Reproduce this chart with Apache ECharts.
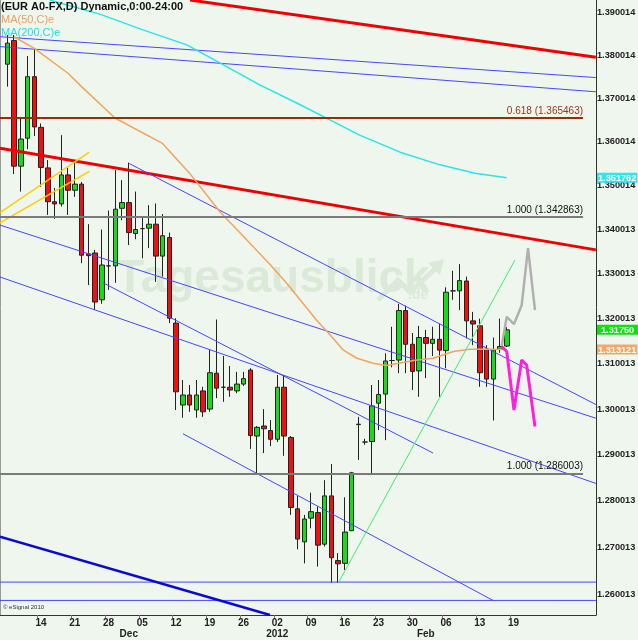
<!DOCTYPE html>
<html><head><meta charset="utf-8">
<script src="https://cdn.jsdelivr.net/npm/echarts@6/dist/echarts.min.js"></script>
<style>html,body{margin:0;padding:0;background:#eff6ee}#c{width:638px;height:640px}</style>
</head><body><div id="c"></div><script>
// ---- data ----
const opens = [1.3779,1.3834,1.3544,1.3608,1.3750,1.3633,1.3540,1.3463,1.3458,1.3524,
1.3489,1.3503,1.3345,1.3347,1.3242,1.3318,1.3318,1.3448,1.3461,1.3391,
1.3402,1.3403,1.3412,1.3340,1.3382,1.3190,1.3009,1.3031,1.2998,1.3040,
1.3000,1.3079,1.3048,1.3048,1.3040,1.3055,1.3086,1.2941,1.2963,1.2953,
1.2934,1.3048,1.2938,1.2783,1.2712,1.2763,1.2775,1.2707,1.2811,1.2672,
1.2666,1.2736,1.2966,1.2928,1.2929,1.3013,1.3033,1.3107,1.3108,1.3218,
1.3143,1.3084,1.3158,1.3145,1.3154,1.3129,1.3262,1.3262,1.3284,1.3195,
1.3184,1.3132,1.3066,1.3132,1.3139];
const closes = [1.3828,1.3544,1.3606,1.3750,1.3634,1.3541,1.3463,1.3458,1.3524,1.3489,
1.3503,1.3342,1.3341,1.3237,1.3320,1.3318,1.3446,1.3461,1.3393,1.3400,
1.3402,1.3412,1.3340,1.3386,1.3201,1.3038,1.3031,1.3009,1.3031,1.2994,
1.3080,1.3046,1.3048,1.3042,1.3055,1.3067,1.2942,1.2960,1.2957,1.2934,
1.3048,1.2941,1.2786,1.2718,1.2761,1.2777,1.2705,1.2811,1.2678,1.2665,
1.2733,1.2861,1.2967,1.2928,1.3007,1.3032,1.3106,1.3107,1.3218,1.3143,
1.3083,1.3158,1.3145,1.3154,1.3130,1.3259,1.3262,1.3285,1.3195,1.3188,
1.3080,1.3066,1.3130,1.3138,1.3175];
const lows = [1.3727,1.3526,1.3486,1.3583,1.3613,1.3497,1.3433,1.3424,1.3452,1.3433,
1.3474,1.3324,1.3275,1.3219,1.3233,1.3264,1.3280,1.3421,1.3365,1.3378,
1.3335,1.3358,1.3282,1.3294,1.3190,1.2998,1.2981,1.2994,1.2981,1.2983,
1.2994,1.3024,1.3016,1.3027,1.3035,1.3051,1.2913,1.2860,1.2904,1.2919,
1.2928,1.2898,1.2770,1.2696,1.2666,1.2741,1.2659,1.2702,1.2624,1.2624,
1.2652,1.2735,1.2889,1.2922,1.2856,1.2954,1.2932,1.3092,1.3079,1.3079,
1.3042,1.3027,1.3068,1.3117,1.3027,1.3090,1.3242,1.3219,1.3156,1.3141,
1.3049,1.3049,1.2975,1.3124,1.3137];
const highs = [1.3847,1.3847,1.3657,1.3798,1.3816,1.3642,1.3558,1.3494,1.3615,1.3540,
1.3558,1.3508,1.3412,1.3354,1.3400,1.3443,1.3535,1.3512,1.3552,1.3486,
1.3429,1.3455,1.3459,1.3435,1.3393,1.3201,1.3064,1.3053,1.3064,1.3049,
1.3132,1.3198,1.3117,1.3095,1.3082,1.3082,1.3090,1.2963,1.3000,1.2976,
1.3075,1.3073,1.2941,1.2811,1.2770,1.2818,1.2788,1.2845,1.2880,1.2688,
1.2808,1.2863,1.2983,1.2935,1.3053,1.3064,1.3123,1.3182,1.3233,1.3229,
1.3168,1.3184,1.3175,1.3182,1.3188,1.3270,1.3307,1.3322,1.3294,1.3215,
1.3200,1.3141,1.3158,1.3200,1.3181];

const ma50 = [[1,1.3843],[4,1.3816],[9,1.3758],[11,1.3727],[16,1.3654],[23,1.3596],[27,1.3528],
[31.5,1.3440],[35,1.3384],[39,1.3320],[41.4,1.3279],[45.8,1.3197],[47.8,1.3164],[49.8,1.3130],
[51.8,1.3112],[54.2,1.3101],[56.2,1.3096],[60.2,1.3107],[63.1,1.3112],[66.1,1.3127],[68.5,1.3132],
[71,1.3132],[74,1.313121]];
const ma200 = [[6.3,1.3929],[13.7,1.3896],[20.1,1.3859],[26.6,1.3824],[31.5,1.3782],[37.4,1.3731],
[43.4,1.3685],[47.8,1.3650],[52.2,1.3615],[58.2,1.3576],[64.1,1.3547],[69.3,1.3528],[74,1.351762]];

const redLineTop = [[27.07,1.3929],[87.2,1.3795]];
const redLineLow = [[-1.08,1.3585],[87.2,1.3354]];
const blueLines = [
  [[-1.08,1.3843],[87.2,1.3748]],
  [[-1.08,1.3820],[87.2,1.3715]],
  [[18.07,1.3550],[87.2,1.3010]],
  [[-1.08,1.3410],[87.2,1.2980]],
  [[-1.08,1.3293],[87.2,1.2838]],
  [[14.18,1.3280],[63.07,1.2904]],
  [[26.03,1.2946],[71.96,1.2587]],
  [[-1.08,1.2626],[87.2,1.2626]],
  [[-1.08,1.2587],[87.2,1.2587]]
];
const blueThick = [[-1.08,1.2723],[38.92,1.2556]];
const greenLine = [[49.04,1.2624],[75.21,1.3331]];
const yellowLines = [
  [[-1.08,1.3438],[12.15,1.3576]],
  [[-1.08,1.3415],[12.15,1.3532]]
];
const grayPath = [[73.24,1.3138],[74,1.3204],[75.07,1.3188],[76.21,1.3230],[77.15,1.3358],[78.18,1.3219]];
const magentaPath = [[73.24,1.3138],[74,1.3127],[75.07,1.2998],[76.21,1.3108],[76.95,1.3097],[78.18,1.2962]];
const fibLevels = [1.365463, 1.342863, 1.286003];
const fibNames = ['0.618', '1.000', '1.000'];

const dayIdx = [5,10,15,20,25,30,35,40,45,50,55,60,65,70,75];
const dayLabels = ['14','21','28','05','12','19','26','02','09','16','23','30','06','13','19'];
const monthIdx = [18,40,62];
const monthLabels = ['Dec','2012','Feb'];
const yTicks = [1.260013,1.270013,1.280013,1.290013,1.300013,1.310013,1.320013,1.330013,1.340013,1.350014,1.360014,1.370014,1.380014,1.390014];
const tagValues = [1.351762, 1.31750, 1.313121];
const tagLabels = ['1.351762','1.31750','1.313121'];

// ---- chart ----
const X0 = -1.08, X1 = 87.22, Y0 = 1.25561, Y1 = 1.39291;
function nearest(arr, v){let b=0;for(let i=1;i<arr.length;i++){if(Math.abs(arr[i]-v)<Math.abs(arr[b]-v))b=i;}return b;}
const candleData = opens.map((o,i)=>[i,o,closes[i],lows[i],highs[i]]);
const FONT = 'Liberation Sans, Arial, sans-serif';

function seg(data,color,width,z){return {type:'line',data:data,symbol:'none',silent:true,z:z||3,
  lineStyle:{color:color,width:width},xAxisIndex:0,yAxisIndex:0};}

const series = [];
series.push({type:'candlestick',data:candleData,encode:{x:0,y:[1,2,3,4]},barWidth:5,z:2,
  itemStyle:{color:'#16dc16',color0:'#ee1111',borderColor:'#222',borderColor0:'#222',borderWidth:1}});
series.push(seg(redLineTop,'#ee0000',3));
series.push(seg(redLineLow,'#ee0000',3));
blueLines.forEach(l=>series.push(seg(l,'#4646ff',1)));
series.push(seg(blueThick,'#0a0ad0',2.5));
series.push(seg(greenLine,'#40ee70',1));
yellowLines.forEach(l=>series.push(seg(l,'#ffcc00',1.5)));
series.push(seg(ma50,'#f3a35a',1.5));
series.push(seg(ma200,'#28e4ec',1.5));
series.push(seg(grayPath,'#b0b0b0',2.5));
series.push(seg(magentaPath,'#ff20dd',3));
fibLevels.forEach((v,i)=>{
  series.push({type:'line',data:[],silent:true,z:3,
    markLine:{symbol:'none',silent:true,animation:false,
      lineStyle:{type:'solid',color:i===0?'#9a2a10':'#7a7a7a',width:2},
      label:{position:'insideEndTop',distance:[0,2],formatter:fibNames[i]+' ('+v.toFixed(6)+')',
        color:i===0?'#a0341a':'#111',fontSize:10,fontFamily:FONT},
      data:[[{coord:[X0,v]},{coord:[85.3,v]}]]}});
});

const option = {
  backgroundColor:'#eff6ee',
  animation:false,
  grid:{left:0,right:42,top:0,bottom:25,outerBoundsMode:'none',containLabel:false},
  xAxis:[
    {type:'value',min:X0,max:X1,position:'bottom',
     axisLine:{show:true,onZero:false,lineStyle:{color:'#333',width:1}},
     splitLine:{show:false},
     axisTick:{show:true,customValues:dayIdx.map(d=>d-0.5),length:4,lineStyle:{color:'#777'}},
     axisLabel:{customValues:dayIdx,formatter:v=>dayLabels[nearest(dayIdx,v)],
       fontWeight:'bold',fontSize:10,color:'#222',margin:3,fontFamily:FONT}},
    {type:'value',min:X0,max:X1,position:'bottom',
     axisLine:{show:false,onZero:false},axisTick:{show:false},splitLine:{show:false},
     axisLabel:{customValues:monthIdx,formatter:v=>monthLabels[nearest(monthIdx,v)],
       fontWeight:'bold',fontSize:10,color:'#222',margin:14,fontFamily:FONT}}
  ],
  yAxis:[
    {type:'log',logBase:10,min:Y0,max:Y1,position:'right',
     axisLine:{show:true,onZero:false,lineStyle:{color:'#333'}},axisTick:{show:false},splitLine:{show:false},
     axisLabel:{customValues:yTicks,formatter:v=>yTicks[nearest(yTicks,v)].toFixed(6),
       fontWeight:'bold',fontSize:9.2,color:'#222',margin:1,fontFamily:FONT}},
    {type:'log',logBase:10,min:Y0,max:Y1,position:'left',
     axisLine:{show:true,onZero:false,lineStyle:{color:'#999'}},axisTick:{show:false},splitLine:{show:false},
     axisLabel:{show:false}},
    {type:'log',logBase:10,min:Y0,max:Y1,position:'right',
     axisLine:{show:false,onZero:false},axisTick:{show:false},splitLine:{show:false},
     axisLabel:{customValues:tagValues,margin:1,fontFamily:FONT,
       formatter:v=>{const i=nearest(tagValues,v);return '{t'+i+'|'+tagLabels[i]+'}';},
       rich:{
         t0:{backgroundColor:'#2ee6ee',color:'#fff',fontSize:9.2,fontWeight:'bold',padding:[1,1,0,1],fontFamily:FONT},
         t1:{backgroundColor:'#10e010',color:'#fff',fontSize:9.2,fontWeight:'bold',padding:[1,4,0,4],fontFamily:FONT},
         t2:{backgroundColor:'#f2a868',color:'#fff',fontSize:9.2,fontWeight:'bold',padding:[1,1,0,1],fontFamily:FONT}
       }}}
  ],
  graphic:[
    {type:'text',left:116,top:256,z:-10,silent:true,
     style:{text:'Tagesausblick',fill:'#dbe9d8',font:'bold 46px '+FONT}},
    {type:'text',left:408,top:288,z:-10,silent:true,
     style:{text:'.de',fill:'#dbe9d8',font:'bold 14px '+FONT}},
    {type:'polyline',z:-10,silent:true,shape:{points:[[378,300],[398,280],[410,292],[436,268]]},
     style:{stroke:'#dbe9d8',lineWidth:5,fill:null}},
    {type:'polygon',z:-10,silent:true,shape:{points:[[428,263],[444,259],[440,275]]},
     style:{fill:'#dbe9d8'}},
    {type:'text',left:1,top:1,z:20,silent:true,
     style:{text:'(EUR A0-FX,D) Dynamic,0:00-24:00',fill:'#111',font:'bold 11px '+FONT}},
    {type:'text',left:1,top:14,z:20,silent:true,
     style:{text:'MA(50,C)e',fill:'#f0a060',font:'11px '+FONT}},
    {type:'text',left:1,top:27,z:20,silent:true,
     style:{text:'MA(200,C)e',fill:'#22dde6',font:'11px '+FONT}},
    {type:'text',left:3,top:604,z:20,silent:true,
     style:{text:'© eSignal 2010',fill:'#333',font:'6px '+FONT}}
  ],
  series:series
};
const chart = echarts.init(document.getElementById('c'),null,{renderer:'canvas'});
chart.setOption(option);
</script></body></html>
